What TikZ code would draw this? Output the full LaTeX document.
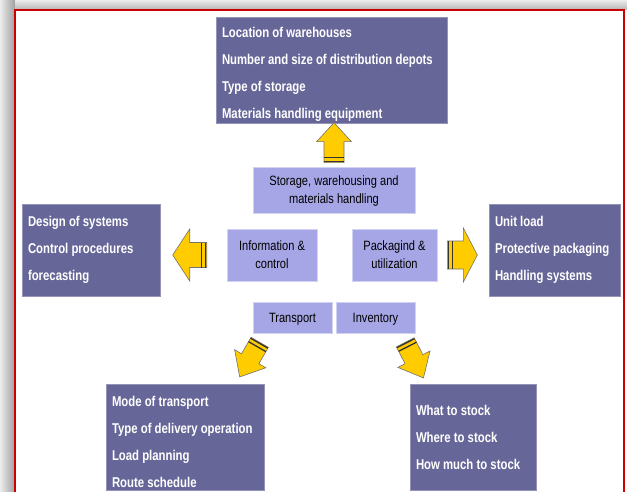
\documentclass[tikz,border=0pt]{standalone}
\usepackage{fontspec}
\setmainfont{Liberation Sans}[
  UprightFeatures={FakeStretch=0.82},
  BoldFeatures={FakeStretch=0.8}]
\usepackage{tikz}
\definecolor{listBox}{HTML}{666699}
\definecolor{topicBox}{HTML}{A6A6E6}
\definecolor{arrowFill}{HTML}{FFCC00}
\definecolor{frameRed}{HTML}{CC0000}

\begin{document}
\begin{tikzpicture}[
  x=1pt,
  y=-1pt,
  list box/.style={
    draw=listBox!70!white,
    line width=0.6pt,
    fill=listBox,
    text=white,
    font=\fontsize{14.2}{27}\selectfont\bfseries,
    align=flush left,
    inner xsep=6pt,
    inner ysep=0pt,
  },
  four lines/.style={
    text height=19.5pt,
  },
  topic box/.style={
    draw=topicBox!50!white,
    line width=0.6pt,
    fill=topicBox,
    font=\fontsize{13.5}{18}\selectfont,
    align=center,
    text depth=0pt,
    inner sep=0pt,
  },
  arrow body/.style={
    fill=arrowFill,
    draw=black!55,
    line width=0.6pt,
  },
  arrow stripe/.style={
    draw=black!80,
    line width=1.3pt,
  },
  pics/striped arrow/.style args={#1/#2/#3/#4}{
    code={
      \path[arrow body] (0,-#4) -- (#1-#2,-#4) -- (#1-#2,-#3) -- (#1,0)
        -- (#1-#2,#3) -- (#1-#2,#4) -- (0,#4) -- cycle;
      \draw[arrow stripe] (1,-#4) -- (1,#4);
      \draw[arrow stripe] (5,-#4) -- (5,#4);
    }
  }
]
% slide frame
\clip (0,0) rectangle (627,492);
\fill[left color=gray!15, right color=gray!75] (0,0) rectangle (15,492);
\fill[top color=gray!15, bottom color=gray!60] (15,0) rectangle (627,10);
\fill[white] (15,10) rectangle (627,492);
\draw[frameRed, line width=1.6pt] (15,10) rectangle (624,520);

% the five areas
\node[topic box, minimum width=162pt, minimum height=46pt] (storage) at (334,190)
  {Storage, warehousing and\\materials handling};
\node[topic box, minimum width=90pt, minimum height=52pt] (info) at (272,255)
  {Information \&\\control};
\node[topic box, minimum width=85pt, minimum height=52pt] (pack) at (394.5,255)
  {Packagind \&\\utilization};
\node[topic box, minimum width=79pt, minimum height=31pt] (transport) at (292.5,317.5)
  {Transport};
\node[topic box, minimum width=79pt, minimum height=31pt] (inventory) at (375.5,317.5)
  {Inventory};

% what each area covers
\node[list box, four lines, text width=219pt, minimum height=106pt] (warehouses) at (331.5,70)
  {Location of warehouses\\Number and size of distribution depots\\Type of storage\\Materials handling equipment};
\node[list box, text width=126pt, minimum height=92pt] (systems) at (91,250)
  {Design of systems\\Control procedures\\forecasting};
\node[list box, text width=119pt, minimum height=92pt] (unitload) at (554.5,250)
  {Unit load\\Protective packaging\\Handling systems};
\node[list box, four lines, text width=146pt, minimum height=106pt] (delivery) at (185,437)
  {Mode of transport\\Type of delivery operation\\Load planning\\Route schedule};
\node[list box, text width=114pt, minimum height=106pt] (stock) at (473,437)
  {What to stock\\Where to stock\\How much to stock};

% block arrows
\pic[rotate=90] at ([yshift=4pt]storage.north) {striped arrow=40/19/17.5/10};
\pic[rotate=180] at ([xshift=-20pt]info.west) {striped arrow=34/17/26/12.5};
\pic at ([xshift=10pt]pack.east) {striped arrow=30/14/27/14};
\pic[rotate=240] at ([xshift=7pt,yshift=-9pt]transport.south west) {striped arrow=40/21/18/10};
\pic[rotate=-63] at ([xshift=-10pt,yshift=-9pt]inventory.south east) {striped arrow=40/21/18/10};
\end{tikzpicture}
\end{document}
